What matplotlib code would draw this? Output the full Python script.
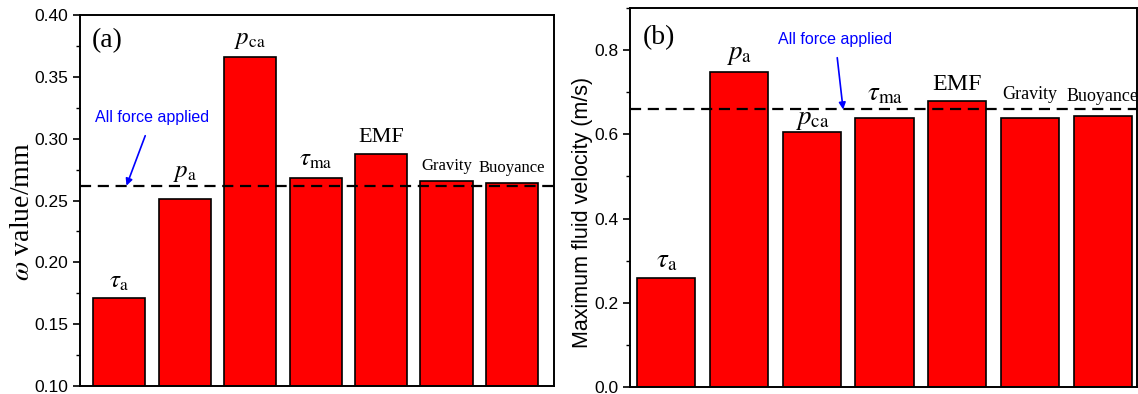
import numpy as np
import matplotlib.pyplot as plt
from matplotlib.ticker import MultipleLocator

# panel (a): omega value per force term
labels_a = [r'$\tau_{\rm a}$', r'$p_{\rm a}$', r'$p_{\rm ca}$', r'$\tau_{\rm ma}$', 'EMF', 'Gravity', 'Buoyance']
omega = [0.171, 0.251, 0.366, 0.268, 0.288, 0.266, 0.264]
omega_all = 0.262

# panel (b): maximum fluid velocity per force term
labels_b = [r'$\tau_{\rm a}$', r'$p_{\rm a}$', r'$p_{\rm ca}$', r'$\tau_{\rm ma}$', 'EMF', 'Gravity', 'Buoyance']
velocity = [0.259, 0.749, 0.605, 0.639, 0.680, 0.639, 0.644]
velocity_all = 0.659

# gap (points) between bar top and its label, as placed in the original
gap_a = [4, 11, 4, 5, 5, 5, 5]
gap_b = [3, 3, 0, 8, 4, 11, 8]

plt.rcParams['mathtext.fontset'] = 'stix'
plt.rcParams['font.family'] = 'Liberation Sans'

fig = plt.figure(figsize=(11.38, 3.94), dpi=100)
ax1 = fig.add_axes([80/1138, 1-386/394, 474/1138, 371/394])
ax2 = fig.add_axes([630/1138, 1-387/394, 507/1138, 379/394])


def label_size(lab, scale):
    if lab.startswith('$'):
        return 18 * scale
    if lab == 'EMF':
        return 16 * scale
    return 12 * scale


def draw(ax, vals, labs, ref, gaps, scale=1.0):
    x = np.arange(len(vals))
    ax.bar(x, vals, width=0.8, color='#ff0000', edgecolor='black', linewidth=1.2)
    ax.axhline(ref, color='black', linestyle=(0, (5, 3)), linewidth=1.6, zorder=3)
    for xi, v, lab, g in zip(x, vals, labs, gaps):
        ax.annotate(lab, xy=(xi, v), xytext=(0, g), textcoords='offset points',
                    ha='center', va='bottom', family='Liberation Serif',
                    fontsize=label_size(lab, scale), zorder=4)
    ax.set_xticks([])
    for s in ax.spines.values():
        s.set_linewidth(1.4)
    ax.tick_params(axis='y', which='major', direction='out', length=5, width=1.2, labelsize=12.5)
    ax.tick_params(axis='y', which='minor', direction='out', length=3, width=1.0)
    return x


draw(ax1, omega, labels_a, omega_all, gap_a)
ax1.set_xlim(-0.6, 6.64)
ax1.set_ylim(0.10, 0.40)
ax1.yaxis.set_major_locator(MultipleLocator(0.05))
ax1.yaxis.set_minor_locator(MultipleLocator(0.025))
ax1.yaxis.set_major_formatter(plt.FormatStrFormatter('%.2f'))
ax1.set_ylabel(r'$\omega$ value/mm', family='Liberation Serif', fontsize=20)
ax1.yaxis.set_label_coords(-0.095, 0.47)
ax1.text(0.025, 0.965, '(a)', transform=ax1.transAxes, family='Liberation Serif',
         fontsize=20, va='top')
ax1.annotate('All force applied', xy=(0.11, omega_all), xytext=(0.5, 0.317),
             ha='center', va='center', color='#0000ff', fontsize=11.5,
             arrowprops=dict(arrowstyle='-|>', color='#0000ff', lw=1.2,
                             shrinkA=6, shrinkB=0, mutation_scale=10))

draw(ax2, velocity, labels_b, velocity_all, gap_b, scale=1.08)
ax2.set_xlim(-0.5, 6.47)
ax2.set_ylim(0, 0.9)
ax2.yaxis.set_major_locator(MultipleLocator(0.2))
ax2.yaxis.set_minor_locator(MultipleLocator(0.1))
ax2.yaxis.set_major_formatter(plt.FormatStrFormatter('%.1f'))
ax2.set_ylabel('Maximum fluid velocity (m/s)', fontsize=15.5)
ax2.yaxis.set_label_coords(-0.073, 0.46)
ax2.text(0.026, 0.955, '(b)', transform=ax2.transAxes, family='Liberation Serif',
         fontsize=20, va='top')
ax2.annotate('All force applied', xy=(2.43, velocity_all), xytext=(2.32, 0.826),
             ha='center', va='center', color='#0000ff', fontsize=11.5,
             arrowprops=dict(arrowstyle='-|>', color='#0000ff', lw=1.2,
                             shrinkA=6, shrinkB=0, mutation_scale=10))

fig.savefig('out.png', dpi=100)
